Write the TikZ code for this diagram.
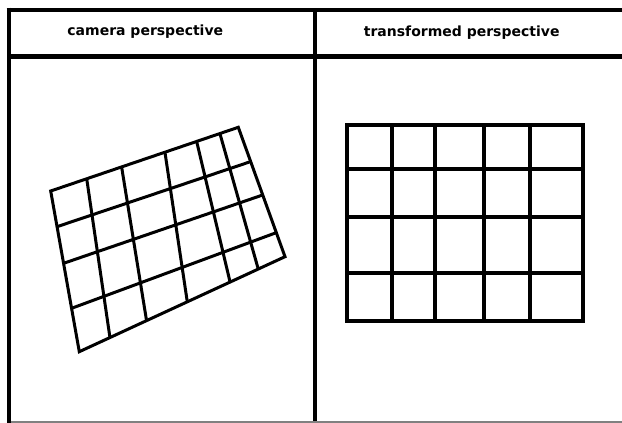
\documentclass[tikz,border=0pt]{standalone}
\usepackage{fontspec}
\setmainfont{DejaVu Sans}
\usetikzlibrary{calc}
\begin{document}
\begin{tikzpicture}[x=1pt,y=-1pt,
  frameline/.style={line width=4pt},
  headline/.style={line width=4.6pt},
  gridl/.style={line width=3pt, line join=miter},
  gridr/.style={line width=4pt, line join=miter},
  title/.style={font=\fontsize{14}{16}\selectfont\bfseries, inner sep=0pt}]
\useasboundingbox (0,0) rectangle (622,423);
\fill[white] (0,0) rectangle (622,423);
% frame
\coordinate (ftl) at (6.7,9.5);
\coordinate (ftr) at (622,9.5);
\coordinate (flt) at (8.7,7.5);
\coordinate (flb) at (8.7,423);
\coordinate (fhl) at (8.7,56.5);
\coordinate (fhr) at (622,56.5);
\coordinate (fdt) at (314.7,9.5);
\coordinate (fdb) at (314.7,423);
\coordinate (fbl) at (10.7,422);
\coordinate (fbr) at (622,422);
\draw[frameline] (ftl) -- (ftr);
\draw[frameline] (flt) -- (flb);
\draw[headline] (fhl) -- (fhr);
\draw[frameline] (fdt) -- (fdb);
\draw[gray, line width=1.2pt] (fbl) -- (fbr);
% titles
\node[title] (t1) at (145.3,32) {camera perspective};
\node[title] (t2) at (461.7,32.5) {transformed perspective};
% left (perspective) grid
\coordinate (TL) at (50.7,191);
\coordinate (TR) at (238.3,127.3);
\coordinate (BR) at (285,256.7);
\coordinate (BL) at (79.3,351.7);
\draw[gridl] (TL) -- (TR) -- (BR) -- (BL) -- cycle;
\foreach \a/\b [count=\i] in {0.222/0.265, 0.45/0.523, 0.73/0.814} {
  \coordinate (hl\i) at ($(TL)!\a!(BL)$);
  \coordinate (hr\i) at ($(TR)!\b!(BR)$);
  \draw[gridl] (hl\i) -- (hr\i);
}
\foreach \a/\b [count=\i] in {0.192/0.149, 0.378/0.327, 0.609/0.525, 0.778/0.733, 0.902/0.870} {
  \coordinate (vt\i) at ($(TL)!\a!(TR)$);
  \coordinate (vb\i) at ($(BL)!\b!(BR)$);
  \draw[gridl] (vt\i) -- (vb\i);
}
% right (rectified) grid
\coordinate (rtl) at (346.7,125);
\coordinate (rbr) at (583.3,320.7);
\draw[gridr] (rtl) rectangle (rbr);
\foreach \x [count=\i] in {391.7,435,484.3,530} {
  \coordinate (rvt\i) at (\x,125);
  \coordinate (rvb\i) at (\x,320.7);
  \draw[gridr] (rvt\i) -- (rvb\i);
}
\foreach \y [count=\i] in {169.3,216.7,273.3} {
  \coordinate (rhl\i) at (346.7,\y);
  \coordinate (rhr\i) at (583.3,\y);
  \draw[gridr] (rhl\i) -- (rhr\i);
}
\end{tikzpicture}
\end{document}
